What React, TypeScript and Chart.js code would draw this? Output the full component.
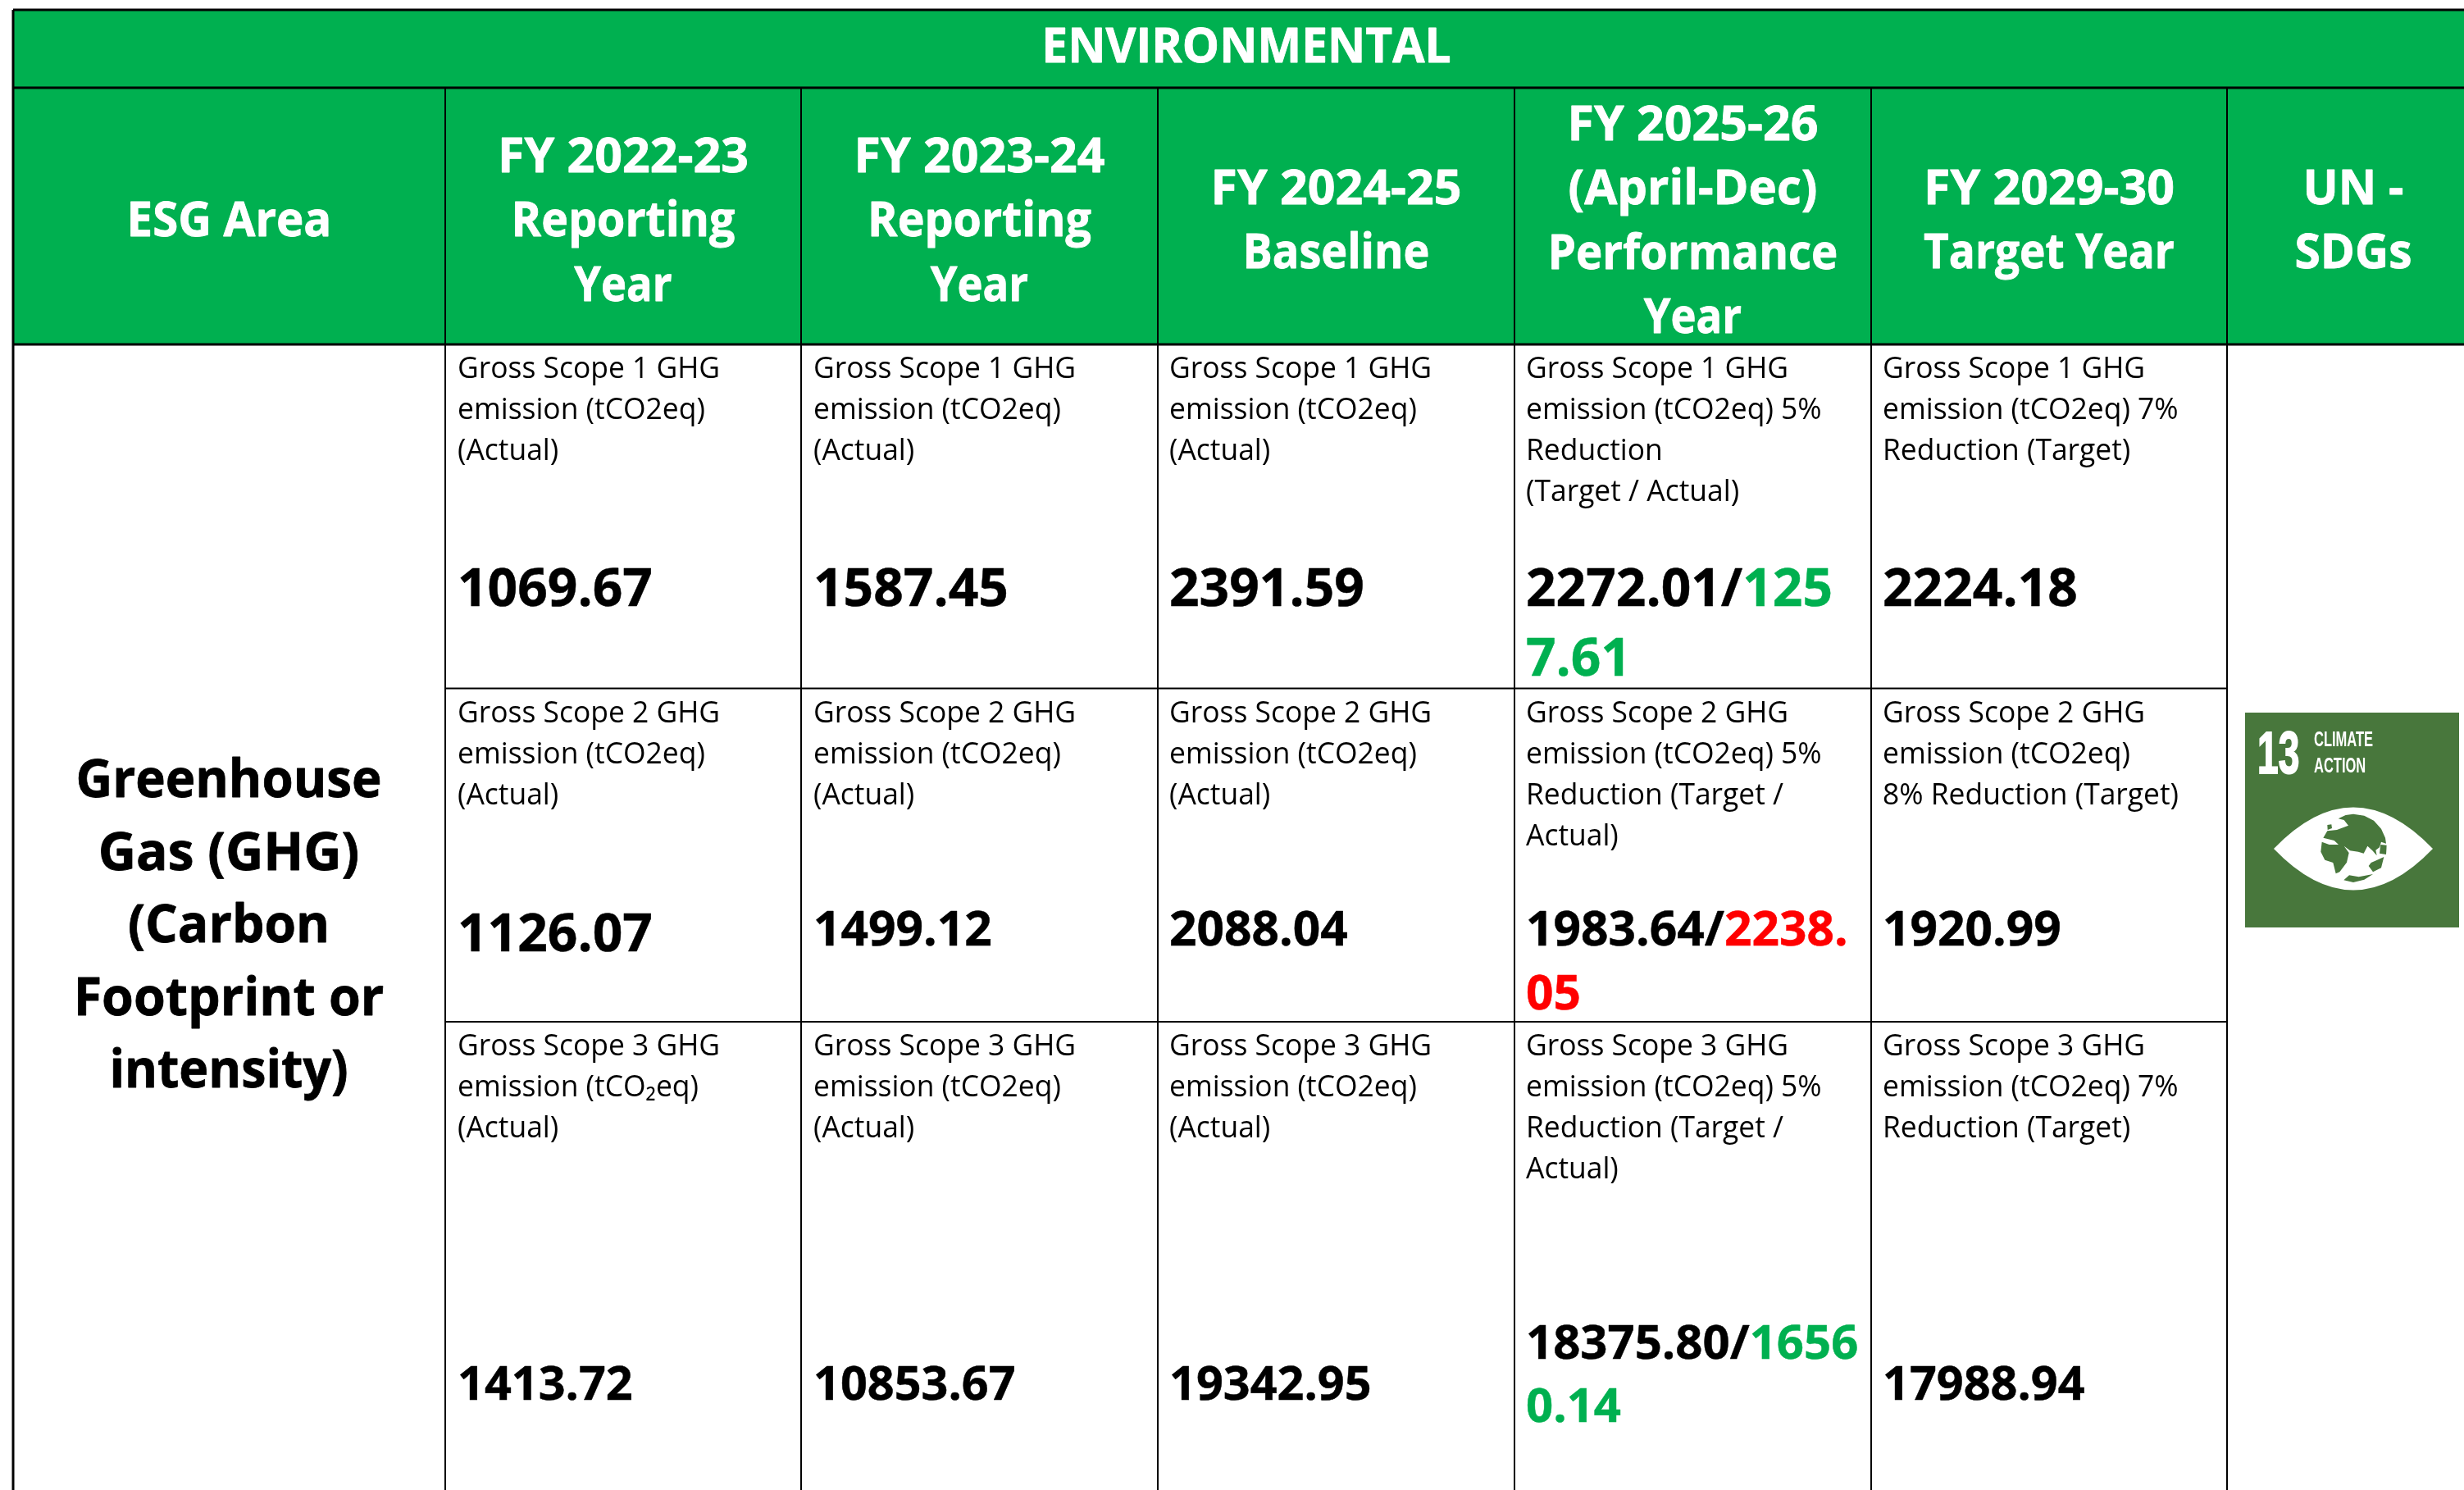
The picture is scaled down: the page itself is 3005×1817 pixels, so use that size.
import React, { useEffect, useRef } from "react";
import { Chart, registerables } from "chart.js";

Chart.register(...registerables);

const W = 3005;
const H = 1817;

const bannerTitle = "ENVIRONMENTAL";
const esgAreaHeader = ["ESG Area"];
const yearHeaders = [
  ["FY 2022-23", "Reporting", "Year"],
  ["FY 2023-24", "Reporting", "Year"],
  ["FY 2024-25", "Baseline"],
  ["FY 2025-26", "(April-Dec)", "Performance", "Year"],
  ["FY 2029-30", "Target Year"],
  ["UN -", "SDGs"],
];
const esgArea = ["Greenhouse", "Gas (GHG)", "(Carbon", "Footprint or", "intensity)"];

const scope1Labels = [
  ["Gross Scope 1 GHG", "emission (tCO2eq)", "(Actual)"],
  ["Gross Scope 1 GHG", "emission (tCO2eq)", "(Actual)"],
  ["Gross Scope 1 GHG", "emission (tCO2eq)", "(Actual)"],
  ["Gross Scope 1 GHG", "emission (tCO2eq) 5%", "Reduction", "(Target / Actual)"],
  ["Gross Scope 1 GHG", "emission (tCO2eq) 7%", "Reduction (Target)"],
];
const scope2Labels = [
  ["Gross Scope 2 GHG", "emission (tCO2eq)", "(Actual)"],
  ["Gross Scope 2 GHG", "emission (tCO2eq)", "(Actual)"],
  ["Gross Scope 2 GHG", "emission (tCO2eq)", "(Actual)"],
  ["Gross Scope 2 GHG", "emission (tCO2eq) 5%", "Reduction (Target /", "Actual)"],
  ["Gross Scope 2 GHG", "emission (tCO2eq)", "8% Reduction (Target)"],
];
const scope3Labels = [
  ["Gross Scope 3 GHG", "emission (tCO\u2082eq)", "(Actual)"],
  ["Gross Scope 3 GHG", "emission (tCO2eq)", "(Actual)"],
  ["Gross Scope 3 GHG", "emission (tCO2eq)", "(Actual)"],
  ["Gross Scope 3 GHG", "emission (tCO2eq) 5%", "Reduction (Target /", "Actual)"],
  ["Gross Scope 3 GHG", "emission (tCO2eq) 7%", "Reduction (Target)"],
];

const scope1Values = ["1069.67", "1587.45", "2391.59", "2272.01", "2224.18"];
const scope2Values = ["1126.07", "1499.12", "2088.04", "1983.64", "1920.99"];
const scope3Values = ["1413.72", "10853.67", "19342.95", "18375.80", "17988.94"];
const performanceActuals = ["1257.61", "2238.05", "16560.14"];

const sdgNumber = "13";
const sdgTitle = ["CLIMATE", "ACTION"];

// ---- layout of the table, in the units of the two chart scales
const colEdges = [16, 543, 977, 1412, 1847, 2282, 2716, W];
const rowEdges = [12, 107, 420, 839.5, 1246, H];
const GREEN = "#00B050";
const RED = "#FF0000";
const BLACK = "#000000";
const FONT = '"Open Sans"';

const headerSqueeze: Record<string, number> = {
  "ESG Area": 0.955,
  Reporting: 0.94,
  Year: 0.89,
  Baseline: 0.915,
  "(April-Dec)": 0.985,
  Performance: 0.925,
  "Target Year": 0.9,
  "UN -": 0.97,
  SDGs: 0.965,
};
const areaSqueeze = [0.965, 1.0, 0.975, 0.98, 0.95];
const textInset = [15, 15, 14, 14, 14];

// logo outlines, in tenths of logo-crop units
const landOutlines = [
  [[245,55],[272,42],[300,38],[340,44],[375,62],[402,92],[417,125],[420,146],[402,140],[396,160],[382,170],[386,190],[370,172],[352,155],[338,182],[318,176],[288,172],[266,155],[284,180],[276,215],[250,250],[236,256],[226,216],[196,206],[181,176],[185,140],[212,150],[246,150],[230,135],[190,125],[205,100],[240,96],[282,80],[266,60]],
  [[205,78],[220,76],[222,90],[206,96]],
  [[365,216],[384,208],[412,195],[402,235],[372,250],[356,228]],
  [[265,280],[285,262],[320,268],[372,258],[340,278],[300,288]],
  [[400,150],[422,152],[420,186],[396,182]],
];

type Run = { t: string; c: string };

function segment(x0: number, y0: number, x1: number, y1: number, w: number) {
  return {
    type: "scatter" as const,
    showLine: true,
    pointRadius: 0,
    borderColor: BLACK,
    borderWidth: w,
    order: 0,
    data: [{ x: x0, y: y0 }, { x: x1, y: y1 }],
  };
}
function band(y0: number, y1: number) {
  return {
    type: "scatter" as const,
    showLine: true,
    pointRadius: 0,
    borderWidth: 0,
    backgroundColor: GREEN,
    fill: { value: y1 },
    order: 10,
    data: [{ x: colEdges[0], y: y0 }, { x: W, y: y0 }],
  };
}

const tablePlugin = {
  id: "tableText",
  afterDatasetsDraw(chart: any) {
    const ctx: CanvasRenderingContext2D = chart.ctx;
    const X = (v: number) => chart.scales.x.getPixelForValue(v);
    const Y = (v: number) => chart.scales.y.getPixelForValue(v);
    ctx.save();
    ctx.textBaseline = "alphabetic";

    const put = (s: string, x: number, y: number, size: number, bold: boolean, color: string, align: CanvasTextAlign, squeeze = 1, stroke = 0) => {
      ctx.save();
      ctx.font = `${bold ? "700" : "400"} ${size}px ${FONT}`;
      ctx.fillStyle = color;
      ctx.textAlign = align;
      ctx.translate(X(x), Y(y));
      ctx.scale(squeeze, 1);
      ctx.fillText(s, 0, 0);
      if (stroke > 0) {
        ctx.strokeStyle = color;
        ctx.lineWidth = stroke;
        ctx.lineJoin = "round";
        ctx.strokeText(s, 0, 0);
      }
      ctx.restore();
    };

    // banner + header
    const HSIZE = 59;
    const EDGE = 0.8;
    put(bannerTitle, 1520, 76, HSIZE, true, "#fff", "center", 0.965, EDGE);
    put(esgAreaHeader[0], (colEdges[0] + colEdges[1]) / 2, 288, HSIZE, true, "#fff", "center", headerSqueeze["ESG Area"], EDGE);
    const firstBase: Record<number, number> = { 2: 249, 3: 210, 4: 171 };
    yearHeaders.forEach((lines, i) => {
      const cx = i === 5 ? 2870 : (colEdges[i + 1] + colEdges[i + 2]) / 2;
      const y0 = firstBase[lines.length];
      lines.forEach((l, j) => put(l, cx, y0 + j * 78.3, HSIZE, true, "#fff", "center", headerSqueeze[l] ?? 1.0, EDGE));
    });

    // left merged cell
    esgArea.forEach((l, j) => put(l, 279, 972 + j * 88.5, 64, true, BLACK, "center", areaSqueeze[j], 0.8));

    // scope labels
    const BS = 0.95;
    const labelBase = [461, 881, 1287];
    [scope1Labels, scope2Labels, scope3Labels].forEach((rows, r) => {
      rows.forEach((lines, c) => {
        lines.forEach((l, j) => put(l, colEdges[c + 1] + textInset[c], labelBase[r] + j * 49.9, 37.3, false, BLACK, "left", BS));
      });
    });

    // values
    const drawRuns = (runs: Run[], x: number, y: number, size: number) => {
      let px = 0;
      ctx.font = `700 ${size}px ${FONT}`;
      const widths = runs.map((r) => ctx.measureText(r.t).width);
      runs.forEach((r, i) => {
        put(r.t, x + px, y, size, true, r.c, "left", 1, 0.5);
        px += widths[i];
      });
    };
    const valueBase = [
      [739, 739, 739, 739, 739],
      [1160, 1153, 1153, 1153, 1153],
      [1707, 1707, 1707, 1657, 1707],
    ];
    const valueSize = [
      [64, 64, 64, 64, 64],
      [64, 58.6, 58.6, 58.6, 58.6],
      [57.5, 57.5, 57.5, 58, 57.5],
    ];
    const actualSplit = [3, 5, 4];
    const actualColor = [GREEN, RED, GREEN];
    const secondLine = [824, 1231, 1734];
    [scope1Values, scope2Values, scope3Values].forEach((vals, r) => {
      vals.forEach((v, c) => {
        const x = colEdges[c + 1] + textInset[c];
        const y = valueBase[r][c];
        const size = valueSize[r][c];
        if (c === 3) {
          const a = performanceActuals[r];
          const k = actualSplit[r];
          drawRuns([{ t: v + "/", c: BLACK }, { t: a.slice(0, k), c: actualColor[r] }], x, y, size);
          put(a.slice(k), x, secondLine[r], size, true, actualColor[r], "left", 1, 0.5);
        } else {
          put(v, x, y, size, true, BLACK, "left", 1, 0.5);
        }
      });
    });

    // SDG 13 tile
    const lx = X(2738), ty = Y(869), rx = X(2999), by = Y(1131);
    const TILE = "#48773C";
    ctx.fillStyle = TILE;
    ctx.fillRect(lx, ty, rx - lx, by - ty);
    ctx.fillStyle = "#fff";
    ctx.strokeStyle = "#fff";
    ctx.save();
    ctx.translate(X(2753), Y(943));
    ctx.scale(0.64, 1);
    ctx.font = `700 72px "Liberation Sans"`;
    ctx.fillText(sdgNumber, 0, 0);
    ctx.lineWidth = 2;
    ctx.strokeText(sdgNumber, 0, 0);
    ctx.restore();
    sdgTitle.forEach((t, i) => {
      ctx.save();
      ctx.translate(X(2822), Y(910 + i * 32));
      ctx.scale(0.66, 1);
      ctx.font = `700 25px "Liberation Sans"`;
      ctx.fillText(t, 0, 0);
      ctx.restore();
    });
    // eye
    const ex0 = X(2773), ex1 = X(2967), ey = Y(1035), ecx = X(2870);
    ctx.beginPath();
    ctx.moveTo(ex0, ey);
    ctx.quadraticCurveTo(ecx, Y(934), ex1, ey);
    ctx.quadraticCurveTo(ecx, Y(1136), ex0, ey);
    ctx.closePath();
    ctx.fill();
    // globe land
    ctx.fillStyle = TILE;
    landOutlines.forEach((pts) => {
      ctx.beginPath();
      pts.forEach(([a, b], i) => {
        const px = X(2770 + a / 3);
        const py = Y(980 + b / 3);
        if (i === 0) ctx.moveTo(px, py);
        else ctx.lineTo(px, py);
      });
      ctx.closePath();
      ctx.fill();
    });
    ctx.restore();
  },
};

export default function App() {
  const ref = useRef<HTMLCanvasElement>(null);
  useEffect(() => {
    document.body.style.margin = "0";
    const e = colEdges;
    const r = rowEdges;
    const datasets: any[] = [
      band(r[0], r[1]),
      band(r[1], r[2]),
      segment(e[0], r[0], W, r[0], 3),
      segment(e[0], r[1], W, r[1], 3),
      segment(e[0], r[2], W, r[2], 3),
      segment(e[0], r[0], e[0], H, 3),
      ...e.slice(1, 7).map((x) => segment(x, r[1], x, H, 2)),
      segment(e[1], r[3], e[6], r[3], 2),
      segment(e[1], r[4], e[6], r[4], 2),
    ];
    const chart = new Chart(ref.current!, {
      type: "scatter",
      data: { datasets },
      plugins: [tablePlugin],
      options: {
        animation: false,
        responsive: false,
        layout: { padding: 0 },
        plugins: { legend: { display: false }, tooltip: { enabled: false }, title: { display: false } },
        scales: {
          x: { type: "linear", min: 0, max: W, display: false },
          y: { type: "linear", min: 0, max: H, reverse: true, display: false },
        },
      },
    } as any);
    return () => chart.destroy();
  }, []);
  return <canvas ref={ref} width={W} height={H} style={{ display: "block", background: "#fff" }} />;
}
